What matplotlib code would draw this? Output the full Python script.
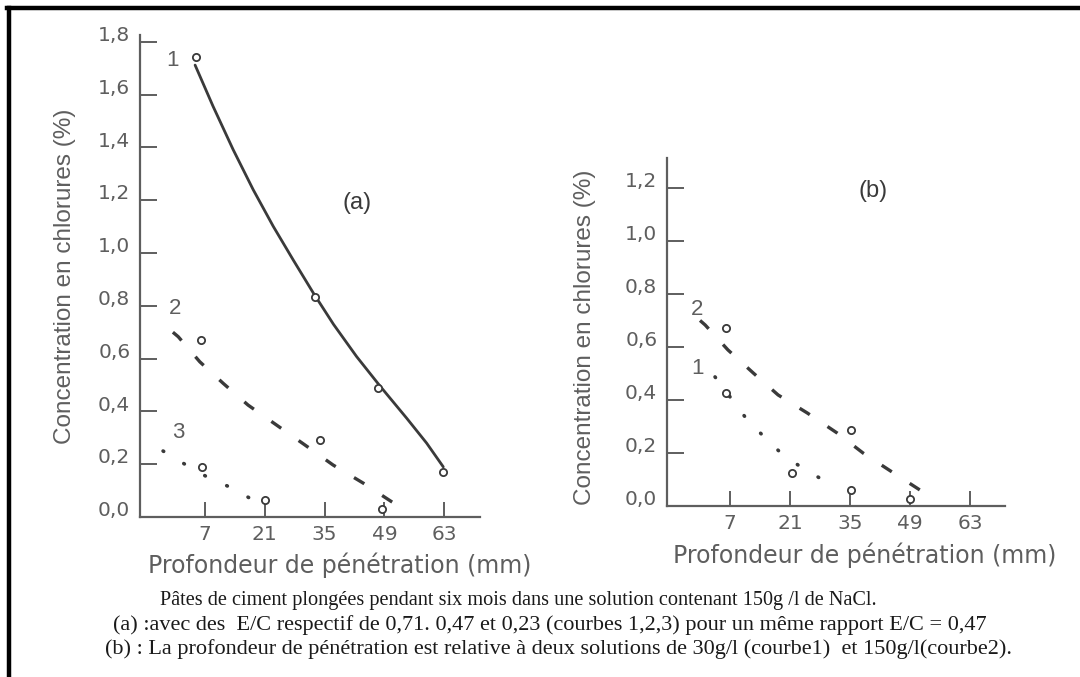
import matplotlib
matplotlib.use("Agg")
import matplotlib.pyplot as plt
from matplotlib.transforms import ScaledTranslation
from matplotlib.lines import Line2D

# ---- data ----
x_ticks = [7, 21, 35, 49, 63]

# panel (a)
a_y_ticks = [0.0, 0.2, 0.4, 0.6, 0.8, 1.0, 1.2, 1.4, 1.6, 1.8]
a_c1_line_x = [4.7, 8.9, 13.6, 18.3, 23.0, 27.7, 32.4, 37.1, 42.5, 48.0, 54.2, 58.9, 62.8]
a_c1_line_y = [1.712, 1.556, 1.392, 1.240, 1.101, 0.973, 0.848, 0.730, 0.608, 0.496, 0.375, 0.280, 0.190]
a_c1_pts_x = [4.9, 32.8, 47.6, 62.8]
a_c1_pts_y = [1.744, 0.834, 0.488, 0.170]

a_c2_line_x = [-0.5, 0.75, 5.8, 11.3, 17.1, 23.8, 30.4, 37.0, 44.1, 50.7, 52]
a_c2_line_y = [0.70, 0.683, 0.588, 0.506, 0.424, 0.348, 0.273, 0.197, 0.128, 0.058, 0.045]
a_c2_pts_x = [6, 34, 48.5]
a_c2_pts_y = [0.67, 0.29, 0.03]

a_c3_line_x = [-2.8, 2.3, 7.7, 13.3, 18.3]
a_c3_line_y = [0.25, 0.20, 0.15, 0.11, 0.064]
a_c3_pts_x = [6.3, 21]
a_c3_pts_y = [0.19, 0.064]

# panel (b)
b_y_ticks = [0.0, 0.2, 0.4, 0.6, 0.8, 1.0, 1.2]
b_c2_line_x = [0, 1.2, 6.5, 12.4, 18.2, 25, 32, 38, 44.8, 51.3]
b_c2_line_y = [0.70, 0.683, 0.589, 0.502, 0.419, 0.351, 0.275, 0.20, 0.128, 0.06]
b_c2_pts_x = [6.1, 35.2, 49]
b_c2_pts_y = [0.672, 0.287, 0.026]

b_c1_line_x = [3.5, 10.5, 14.5, 18.6, 23.5, 28.7]
b_c1_line_y = [0.487, 0.336, 0.268, 0.204, 0.147, 0.098]
b_c1_pts_x = [6.1, 21.4, 35.2]
b_c1_pts_y = [0.426, 0.125, 0.06]

caption = [
    "Pâtes de ciment plongées pendant six mois dans une solution contenant 150g /l de NaCl.",
    "(a) :avec des  E/C respectif de 0,71. 0,47 et 0,23 (courbes 1,2,3) pour un même rapport E/C = 0,47",
    "(b) : La profondeur de pénétration est relative à deux solutions de 30g/l (courbe1)  et 150g/l(courbe2).",
]

INK = "#3a3a3a"
GREY = "#5e5e5e"
SANS = "Liberation Sans"
WIDE = "DejaVu Sans"

W, H = 1080, 677
fig = plt.figure(figsize=(W / 100, H / 100), dpi=100)
fig.patch.set_facecolor("white")


def px_axes(left, right, top, bottom):
    return fig.add_axes([left / W, 1 - bottom / H, (right - left) / W, (bottom - top) / H])


def style_axes(ax, yticks):
    for s in ["top", "right"]:
        ax.spines[s].set_visible(False)
    for s in ["left", "bottom"]:
        ax.spines[s].set_color(GREY)
        ax.spines[s].set_linewidth(1.6)
    ax.set_xticks(x_ticks)
    ax.set_xticklabels([str(t) for t in x_ticks])
    ax.set_yticks(yticks)
    ax.set_yticklabels([f"{t:.1f}".replace(".", ",") for t in yticks])
    ax.tick_params(axis="x", direction="in", length=11, width=1.4, color=GREY,
                   labelsize=14.5, labelcolor=GREY, pad=6)
    ax.tick_params(axis="y", direction="in", length=12, width=1.4, color=GREY,
                   labelsize=14.5, labelcolor=GREY, pad=7)
    for lbl in ax.get_xticklabels() + ax.get_yticklabels():
        lbl.set_family(WIDE)
    off = ScaledTranslation(0, 6 / 72, fig.dpi_scale_trans)
    for lbl in ax.get_yticklabels():
        lbl.set_transform(lbl.get_transform() + off)
    ax.patch.set_alpha(0)


def draw_curves(ax, solid=None, dashed=None, dotted=None, pts=()):
    if solid:
        ax.plot(solid[0], solid[1], color=INK, lw=2.0, solid_capstyle="round",
                solid_joinstyle="round")
    if dashed:
        ax.plot(dashed[0], dashed[1], color=INK, lw=2.4, dashes=(3.6, 6.4),
                dash_capstyle="butt")
    if dotted:
        ax.plot(dotted[0], dotted[1], color=INK, lw=2.6, dashes=(0.2, 6.5),
                dash_capstyle="round")
    for px, py in pts:
        ax.plot(px, py, "o", ms=5.2, mfc="white", mec=INK, mew=1.3, ls="none",
                zorder=5, clip_on=False)


def label(ax, x, y, s, size=16, color=GREY):
    ax.text(x, y, s, color=color, fontsize=size, family=SANS, ha="center", va="center")


# ---- panel (a) ----
axa = px_axes(140, 480, 35, 517)
axa.set_xlim(-8.2, 71.4)
axa.set_ylim(0, 1.826)
style_axes(axa, a_y_ticks)
draw_curves(axa,
            solid=(a_c1_line_x, a_c1_line_y),
            dashed=(a_c2_line_x, a_c2_line_y),
            dotted=(a_c3_line_x, a_c3_line_y),
            pts=[(a_c1_pts_x, a_c1_pts_y), (a_c2_pts_x, a_c2_pts_y), (a_c3_pts_x, a_c3_pts_y)])
label(axa, -0.7, 1.73, "1")
label(axa, 0.0, 0.79, "2")
label(axa, 0.7, 0.32, "3")
label(axa, 42.6, 1.19, "(a)", size=17, color=INK)
axa.set_ylabel("Concentration en chlorures (%)", fontsize=17.5, family=SANS, color=GREY)
axa.set_xlabel("Profondeur de pénétration (mm)", fontsize=17, family=WIDE, color=GREY)
axa.yaxis.set_label_coords(-64 / 340, 0.50)
axa.xaxis.set_label_coords(0.588, -0.074)

# ---- panel (b) ----
axb = px_axes(667, 1005, 158, 506)
axb.set_xlim(-7.7, 71.1)
axb.set_ylim(0, 1.313)
style_axes(axb, b_y_ticks)
draw_curves(axb,
            dashed=(b_c2_line_x, b_c2_line_y),
            dotted=(b_c1_line_x, b_c1_line_y),
            pts=[(b_c2_pts_x, b_c2_pts_y), (b_c1_pts_x, b_c1_pts_y)])
label(axb, -0.7, 0.74, "2")
label(axb, -0.5, 0.52, "1")
label(axb, 40.3, 1.19, "(b)", size=17, color=INK)
axb.set_ylabel("Concentration en chlorures (%)", fontsize=17.5, family=SANS, color=GREY)
axb.set_xlabel("Profondeur de pénétration (mm)", fontsize=17, family=WIDE, color=GREY)
axb.yaxis.set_label_coords(-71 / 338, 0.485)
axb.xaxis.set_label_coords(0.586, -0.104)

# ---- caption ----
cap_left = [160, 113, 105]
cap_y = [601, 625, 649]
cap_size = [14.6, 16, 16]
for txt, xl, yc, fs in zip(caption, cap_left, cap_y, cap_size):
    fig.text(xl / W, 1 - yc / H, txt, family="Liberation Serif", fontsize=fs,
             color="#1a1a1a", ha="left", va="center")

# ---- frame (top and left black rules) ----
fig.add_artist(Line2D([7 / W, 1], [1 - 8 / H, 1 - 8 / H], color="black", lw=3.2,
                      transform=fig.transFigure))
fig.add_artist(Line2D([9 / W, 9 / W], [0, 1 - 8 / H], color="black", lw=3.2,
                      transform=fig.transFigure))

fig.savefig("out.png", dpi=100)
